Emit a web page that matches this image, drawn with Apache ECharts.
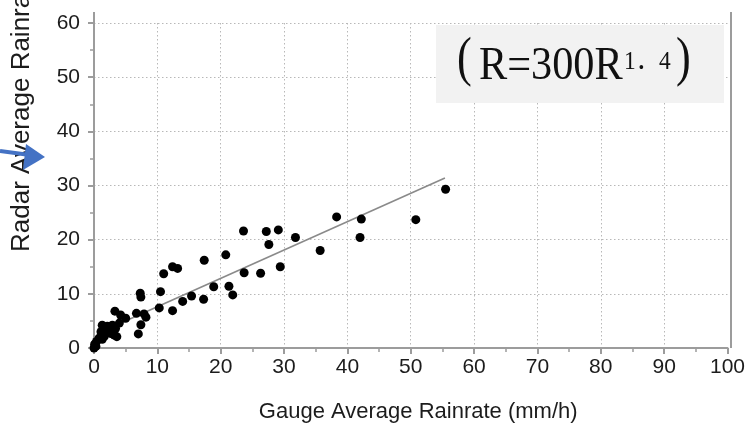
<!DOCTYPE html>
<html>
<head>
<meta charset="utf-8">
<script src="https://cdn.jsdelivr.net/npm/echarts@6/dist/echarts.min.js"></script>
<style>
  html, body { margin: 0; padding: 0; background: #ffffff; }
  #chart { width: 748px; height: 428px; }
</style>
</head>
<body>
<div id="chart"></div>
<script>
// Gauge vs. radar average rain rate (mm/h), one pair per event
const gaugeRate = [
  0.0, 0.3, 0.1, 0.4, 0.8, 1.3, 1.6, 1.1, 1.9, 2.6, 3.2, 2.4, 1.3, 2.1, 2.9, 3.4, 4.0, 3.6,
  3.3, 4.2, 5.0, 6.7, 7.0, 7.4, 7.3, 7.4, 7.9, 8.2, 10.3, 10.5, 11.0, 12.4, 12.4, 13.2,
  14.0, 15.4, 17.3, 17.4, 18.9, 20.8, 21.3, 21.9, 23.6, 23.7, 26.3, 27.2, 27.6, 29.1,
  29.4, 31.8, 35.7, 38.3, 42.0, 42.2, 50.8, 55.5
];
const radarRate = [
  0.0, 0.3, 0.7, 1.2, 1.8, 1.6, 2.1, 3.0, 2.7, 2.7, 2.4, 3.3, 4.2, 4.0, 4.2, 3.6, 4.6, 2.1,
  6.8, 6.1, 5.5, 6.4, 2.6, 4.3, 10.1, 9.4, 6.3, 5.7, 7.4, 10.4, 13.7, 6.9, 15.0, 14.7,
  8.6, 9.6, 9.0, 16.2, 11.3, 17.2, 11.4, 9.8, 21.6, 13.9, 13.8, 21.5, 19.1, 21.8,
  15.0, 20.4, 18.0, 24.2, 20.4, 23.8, 23.7, 29.3
];

// Fitted Z-R relation line end points
const fitGauge = [1.0, 55.4];
const fitRadar = [2.9, 31.4];

// Axis ranges and tick step
const xRange = [0, 100];
const yRange = [0, 60];
const tickStep = 10;

const xTitle = 'Gauge Average Rainrate (mm/h)';
const yTitle = 'Radar Average Rainrate (mm/h)';
const relationParts = ['(', 'R=300R', '1\uFF0E4', ')'];

const points = gaugeRate.map((g, i) => [g, radarRate[i]]);
const fitLine = fitGauge.map((g, i) => [g, fitRadar[i]]);

const axisGray = '#9c9c9c';
const gridDots = { type: [1.5, 2.5], color: '#b8b8b8', width: 1 };
const sansFamily = '"Liberation Sans", Arial, sans-serif';
const tickFont = { fontSize: 21, color: '#1c1c1c', fontFamily: sansFamily };
const serif = (px) => px + 'px "Liberation Serif", "Noto Sans CJK SC", serif';

const chart = echarts.init(document.getElementById('chart'), null, { renderer: 'canvas' });

chart.setOption({
  animation: false,
  backgroundColor: '#ffffff',
  grid: { left: 94, right: 17, top: 23, bottom: 80, containLabel: false },
  xAxis: {
    type: 'value',
    min: xRange[0], max: xRange[1], interval: tickStep,
    axisLine: { show: true, onZero: false, lineStyle: { color: axisGray, width: 2 } },
    axisTick: { show: true, length: 6, lineStyle: { color: axisGray, width: 2 } },
    minorTick: { show: true, splitNumber: 2, length: 4, lineStyle: { color: axisGray, width: 1.5 } },
    axisLabel: Object.assign({ margin: 9 }, tickFont),
    splitLine: { show: true, showMinLine: false, showMaxLine: false, lineStyle: gridDots },
    name: xTitle,
    nameLocation: 'middle',
    nameGap: 53,
    nameTextStyle: { fontSize: 22, color: '#1c1c1c', fontFamily: sansFamily, padding: [0, 0, 0, 15] }
  },
  yAxis: {
    type: 'value',
    min: yRange[0], max: yRange[1], interval: tickStep,
    axisLine: { show: true, onZero: false, lineStyle: { color: axisGray, width: 2 } },
    axisTick: { show: true, length: 6, lineStyle: { color: axisGray, width: 2 } },
    minorTick: { show: true, splitNumber: 2, length: 4, lineStyle: { color: axisGray, width: 1.5 } },
    axisLabel: Object.assign({ margin: 14 }, tickFont),
    splitLine: { show: true, showMinLine: false, lineStyle: gridDots }
  },
  series: [
    {
      type: 'line',
      data: fitLine,
      showSymbol: false,
      symbol: 'none',
      lineStyle: { color: '#8a8a8a', width: 1.6 },
      z: 2
    },
    {
      type: 'scatter',
      data: points,
      symbol: 'circle',
      symbolSize: 9,
      itemStyle: { color: '#000000', opacity: 1 },
      z: 3
    }
  ],
  graphic: [
    // plot frame: left axis runs a little above the top tick, plus the right-hand border
    { type: 'line', shape: { x1: 94, y1: 12, x2: 94, y2: 24 }, style: { stroke: axisGray, lineWidth: 2 }, z: 10 },
    { type: 'line', shape: { x1: 731, y1: 12, x2: 731, y2: 348 }, style: { stroke: axisGray, lineWidth: 2 }, z: 10 },
    // rotated y axis title
    {
      type: 'text', x: 22, y: 252, rotation: Math.PI / 2,
      style: {
        text: yTitle, fill: '#1c1c1c',
        font: '26px ' + sansFamily,
        textAlign: 'left', align: 'left', textVerticalAlign: 'middle', verticalAlign: 'middle'
      },
      z: 10
    },
    // pointer arrow
    { type: 'line', shape: { x1: 0, y1: 151, x2: 30, y2: 155 }, style: { stroke: '#4472c4', lineWidth: 4 }, z: 10 },
    { type: 'polygon', shape: { points: [[45, 157], [26, 144], [23, 170]] }, style: { fill: '#4472c4' }, z: 10 },
    // relation box
    { type: 'rect', shape: { x: 436, y: 25, width: 288, height: 78 }, style: { fill: '#f2f2f2' }, z: 20 },
    {
      type: 'text', x: 457, y: 88, scaleX: 0.82,
      style: { text: relationParts[0], fill: '#111', font: serif(54), textAlign: 'left', align: 'left', verticalAlign: 'bottom' },
      z: 21
    },
    {
      type: 'text', x: 479, y: 90, scaleX: 0.9,
      style: { text: relationParts[1], fill: '#111', font: serif(47), textAlign: 'left', align: 'left', verticalAlign: 'bottom' },
      z: 21
    },
    {
      type: 'text', x: 624, y: 75, scaleX: 0.9,
      style: { text: relationParts[2], fill: '#111', font: serif(26), textAlign: 'left', align: 'left', verticalAlign: 'bottom' },
      z: 21
    },
    {
      type: 'text', x: 676, y: 88, scaleX: 0.82,
      style: { text: relationParts[3], fill: '#111', font: serif(54), textAlign: 'left', align: 'left', verticalAlign: 'bottom' },
      z: 21
    }
  ]
});
</script>
</body>
</html>
